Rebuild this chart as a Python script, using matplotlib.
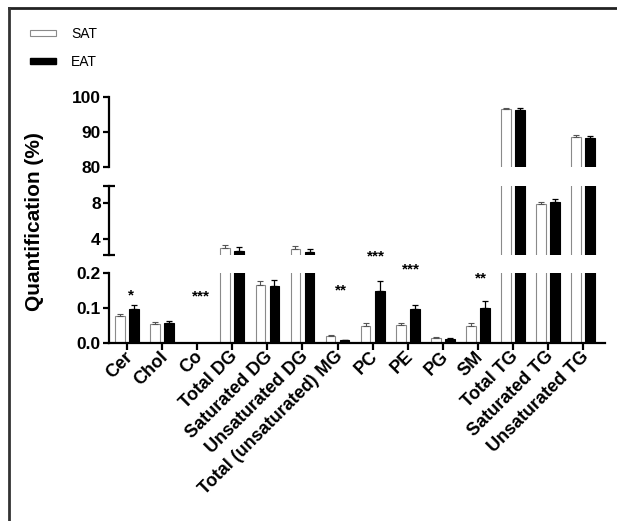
import numpy as np
import matplotlib
matplotlib.use("Agg")
import matplotlib.pyplot as plt
import matplotlib.transforms as mtransforms
from matplotlib.lines import Line2D
from matplotlib.patches import Patch

# Datos (media y error, % del total)
categories = ["Cer", "Chol", "Co", "Total DG", "Saturated DG", "Unsaturated DG",
              "Total (unsaturated) MG", "PC", "PE", "PG", "SM",
              "Total TG", "Saturated TG", "Unsaturated TG"]
sat_mean = [0.077, 0.055, 0.0, 3.0, 0.165, 2.9, 0.021, 0.050, 0.051, 0.013, 0.050, 96.7, 7.9, 88.7]
sat_err = [0.005, 0.004, 0.0, 0.35, 0.012, 0.3, 0.003, 0.008, 0.007, 0.003, 0.008, 0.15, 0.25, 0.5]
eat_mean = [0.098, 0.057, 0.0, 2.7, 0.163, 2.55, 0.008, 0.150, 0.097, 0.012, 0.101, 96.4, 8.07, 88.3]
eat_err = [0.010, 0.006, 0.0, 0.4, 0.016, 0.35, 0.002, 0.027, 0.011, 0.003, 0.018, 0.5, 0.4, 0.6]
sig_labels = ["*", "", "***", "", "", "", "**", "***", "***", "", "**", "", "", ""]
sig_y = [0.135, 0, 0.133, 0, 0, 0, 0.149, 0.246, 0.21, 0, 0.183, 0, 0, 0]

plt.rcParams["font.family"] = ["Liberation Sans", "DejaVu Sans"]

W, H = 617, 521
fig = plt.figure(figsize=(W / 100, H / 100), dpi=100)


def fig_box(top_px, bot_px, left_px=109, right_px=605):
    return [left_px / W, 1 - bot_px / H, (right_px - left_px) / W, (bot_px - top_px) / H]


ax_top = fig.add_axes(fig_box(97, 167))
ax_mid = fig.add_axes(fig_box(186, 255))
ax_bot = fig.add_axes(fig_box(273, 343))
axes = [ax_top, ax_mid, ax_bot]

x = np.arange(len(categories))
off, bw = 0.2, 0.28
zeros = np.zeros(len(categories))

for ax in axes:
    ax.bar(x - off, sat_mean, bw, color="white", edgecolor="#8a8a8a", linewidth=0.8,
           yerr=[zeros, sat_err], error_kw=dict(ecolor="#555555", elinewidth=0.8, capsize=2.2, capthick=0.8))
    ax.bar(x + off, eat_mean, bw, color="black", edgecolor="black", linewidth=0.8,
           yerr=[zeros, eat_err], error_kw=dict(ecolor="black", elinewidth=0.9, capsize=2.2, capthick=0.9))
    ax.set_xlim(-0.52, 13.63)
    for s in ["top", "right"]:
        ax.spines[s].set_visible(False)
    ax.spines["left"].set_linewidth(1.6)
    ax.spines["bottom"].set_linewidth(1.6)
    ax.tick_params(axis="y", width=1.6, length=4, pad=2)

ax_top.set_ylim(80, 100)
ax_top.set_yticks([80, 90, 100])
ax_mid.set_ylim(2.2, 9.9)
ax_mid.set_yticks([4, 8])
ax_bot.set_ylim(0, 0.2)
ax_bot.set_yticks([0.0, 0.1, 0.2])
ax_bot.set_yticklabels(["0.0", "0.1", "0.2"])

for ax in [ax_top, ax_mid]:
    ax.spines["bottom"].set_visible(False)
    ax.set_xticks([])

# tapas del segmento medio del eje roto
ax_mid.set_yticks([2.2, 9.9], minor=True)
ax_mid.tick_params(axis="y", which="minor", direction="inout", length=8, width=1.6)

for ax in axes:
    for lab in ax.get_yticklabels():
        lab.set_fontweight("bold")
        lab.set_fontsize(12.5)

ax_bot.set_xticks(x)
ax_bot.set_xticklabels(categories, rotation=45, ha="right", va="center",
                       rotation_mode="anchor", fontsize=13, fontweight="bold")
ax_bot.tick_params(axis="x", width=1.6, length=5, pad=3)
shift = mtransforms.ScaledTranslation(3 / 100, 0, fig.dpi_scale_trans)
for lab in ax_bot.get_xticklabels():
    lab.set_transform(lab.get_transform() + shift)

for i, (lab, yy) in enumerate(zip(sig_labels, sig_y)):
    if lab:
        ax_bot.text(x[i] + 0.1, yy, lab, ha="center", va="center", fontsize=11,
                    fontweight="bold", clip_on=False)

fig.text(35 / W, 1 - 222 / H, "Quantification (%)", rotation=90, ha="center", va="center",
         fontsize=15, fontweight="bold")

handles = [Patch(facecolor="white", edgecolor="#8a8a8a", linewidth=0.8, label="SAT"),
           Patch(facecolor="black", edgecolor="black", label="EAT")]
fig.legend(handles=handles, loc="upper left", bbox_to_anchor=(30 / W, 1 - 27 / H),
           borderaxespad=0, borderpad=0,
           frameon=False, fontsize=10, handlelength=1.85, handleheight=0.35,
           labelspacing=1.0, handletextpad=1.1)

# marco del recorte original (arriba e izquierda)
fig.add_artist(Line2D([9 / W, 1], [1 - 8 / H, 1 - 8 / H], color="#222222", lw=2))
fig.add_artist(Line2D([9 / W, 9 / W], [0, 1 - 8 / H], color="#333333", lw=2))

fig.savefig("out.png", dpi=100)
